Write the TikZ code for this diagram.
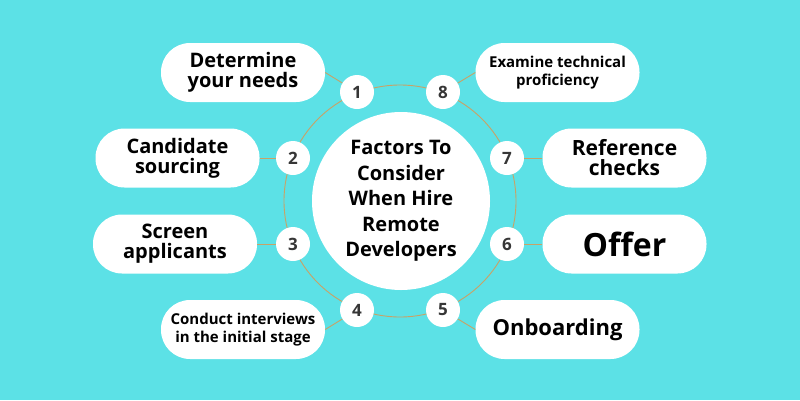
\documentclass[tikz,border=0pt]{standalone}
\usepackage{fontspec}
\setmainfont{Open Sans}
\usetikzlibrary{positioning}
\definecolor{bgcyan}{HTML}{5CE1E6}
\definecolor{ringgold}{HTML}{C9A266}
\definecolor{numgray}{HTML}{363636}
\newcommand{\fs}[2]{\bfseries\fontsize{#1}{#2}\selectfont}

\begin{document}
\begin{tikzpicture}[x=1pt, y=-1pt,
    pill/.style={fill=white, rounded corners=29pt, minimum width=164pt,
        minimum height=59pt, align=center, inner sep=0pt, text=black},
    num/.style={circle, fill=white, minimum size=34pt, inner sep=0pt,
        text=numgray, font=\fs{17}{17}},
    link/.style={ringgold, line width=0.9pt}]

    % Background
    \fill[bgcyan] (0,0) rectangle (800,400);
    \useasboundingbox (0,0) rectangle (800,400);

    % Ring
    \draw[link] (400,201) circle [radius=116pt];

    % Centre
    \node[circle, fill=white, minimum size=178pt, align=center,
        font=\fs{20}{25.5}] (hub) at (401,201)
        {Factors To\\Consider\\When Hire\\Remote\\Developers};

    % Numbers
    \node[num] (n1) at (357,92)  {1};
    \node[num] (n8) at (443,92)  {8};
    \node[num] (n2) at (293,158) {2};
    \node[num] (n7) at (507,158) {7};
    \node[num] (n3) at (293,244) {3};
    \node[num] (n6) at (507,244) {6};
    \node[num] (n4) at (357,310) {4};
    \node[num] (n5) at (443,310) {5};

    % Steps
    \node[pill, font=\fs{20}{20}] (b1) at (243,72.5) {Determine\\your needs};
    \node[pill, font=\fs{15}{18}] (b8) at (557.5,72.5) {Examine technical\\proficiency};
    \node[pill, font=\fs{20}{20}] (b2) at (177.5,158) {Candidate\\sourcing};
    \node[pill, font=\fs{21}{20}] (b7) at (624.5,158) {Reference\\checks};
    \node[pill, font=\fs{20}{20}] (b3) at (175,244) {Screen\\applicants};
    \node[pill, font=\fs{32}{32}] (b6) at (624.5,244) {Offer};
    \node[pill, font=\fs{15}{17.5}] (b4) at (243,329.5) {Conduct interviews\\in the initial stage};
    \node[pill, font=\fs{22}{22}] (b5) at (557.5,329.5) {Onboarding};

    % Links
    \draw[link] (b1.east) -- (n1);
    \draw[link] (b8.west) -- (n8);
    \draw[link] (b2.east) -- (n2);
    \draw[link] (b7.west) -- (n7);
    \draw[link] (b3.east) -- (n3);
    \draw[link] (b6.west) -- (n6);
    \draw[link] (b4.east) -- (n4);
    \draw[link] (b5.west) -- (n5);
\end{tikzpicture}
\end{document}
